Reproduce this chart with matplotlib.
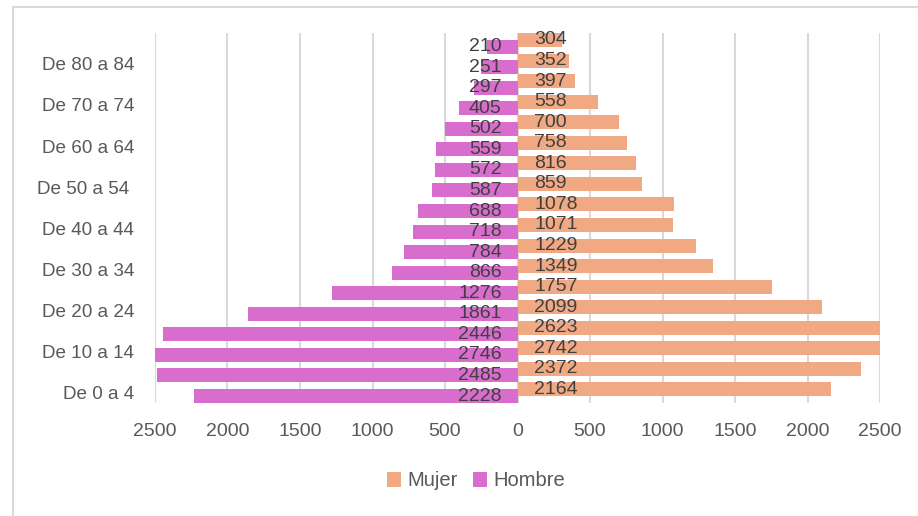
import matplotlib
matplotlib.use("Agg")
import matplotlib.pyplot as plt
from matplotlib.lines import Line2D
from matplotlib.patches import Patch
import numpy as np

plt.rcParams['font.family'] = ['Liberation Sans', 'DejaVu Sans']

# Data (bottom to top: De 0 a 4 ... oldest group)
hombre = [2228, 2485, 2746, 2446, 1861, 1276, 866, 784, 718, 688, 587, 572, 559, 502, 405, 297, 251, 210]
mujer = [2164, 2372, 2742, 2623, 2099, 1757, 1349, 1229, 1071, 1078, 859, 816, 758, 700, 558, 397, 352, 304]
tick_labels = ["De 0 a 4", "De 10 a 14", "De 20 a 24", "De 30 a 34", "De 40 a 44",
               "De 50 a 54 ", "De 60 a 64", "De 70 a 74", "De 80 a 84"]
x_ticks = [-2500, -2000, -1500, -1000, -500, 0, 500, 1000, 1500, 2000, 2500]
x_tick_labels = ["2500", "2000", "1500", "1000", "500", "0", "500", "1000", "1500", "2000", "2500"]

c_mujer = "#F1A983"
c_hombre = "#D86DCD"
txt_dark = "#404040"
txt_gray = "#595959"
grid_c = "#D9D9D9"

W, H = 918, 516
fig = plt.figure(figsize=(W / 100, H / 100), dpi=100)
ax = fig.add_axes([155 / W, 1 - 403 / H, (880 - 155) / W, (403 - 33) / H])

n = len(hombre)
y = np.arange(n)
bh = 0.68
off = 0.16
ax.barh(y + off, mujer, height=bh, color=c_mujer, zorder=2)
ax.barh(y - off, [-v for v in hombre], height=bh, color=c_hombre, zorder=2)

for i in range(n):
    ax.annotate(str(hombre[i]), xy=(0, y[i] - off), xytext=(-11.5, 0), textcoords="offset points",
                ha="right", va="center", fontsize=14, color=txt_dark, zorder=4)
    ax.annotate(str(mujer[i]), xy=(0, y[i] + off), xytext=(12, 0), textcoords="offset points",
                ha="left", va="center", fontsize=14, color=txt_dark, zorder=4)

ax.set_xlim(-2500, 2500)
ax.set_ylim(-0.5, n - 0.5)
ax.set_xticks(x_ticks)
ax.set_xticklabels(x_tick_labels, fontsize=14, color=txt_gray)
ax.set_yticks(list(range(0, 2 * len(tick_labels), 2)))
ax.set_yticklabels(tick_labels, fontsize=13.6, color=txt_gray)
ax.tick_params(axis="x", length=0, pad=14.5)
ax.tick_params(axis="y", length=0, pad=15)
for s in ax.spines.values():
    s.set_visible(False)
ax.grid(axis="x", color=grid_c, linewidth=1.5, zorder=0)
ax.set_axisbelow(True)

handles = [Patch(facecolor=c_mujer, label="Mujer"), Patch(facecolor=c_hombre, label="Hombre")]
leg = fig.legend(handles=handles, loc="center", bbox_to_anchor=(476 / W, 1 - 481 / H), ncol=2,
                 frameon=False, fontsize=14.5, handlelength=0.7, handleheight=0.7,
                 handletextpad=0.3, columnspacing=0.8, labelcolor=txt_gray)

# chart frame
fig.add_artist(Line2D([13 / W, 13 / W], [0, 1 - 7 / H], color=grid_c, linewidth=1.5))
fig.add_artist(Line2D([13 / W, 1], [1 - 7 / H, 1 - 7 / H], color=grid_c, linewidth=1.5))

fig.savefig("out.png", dpi=100)
